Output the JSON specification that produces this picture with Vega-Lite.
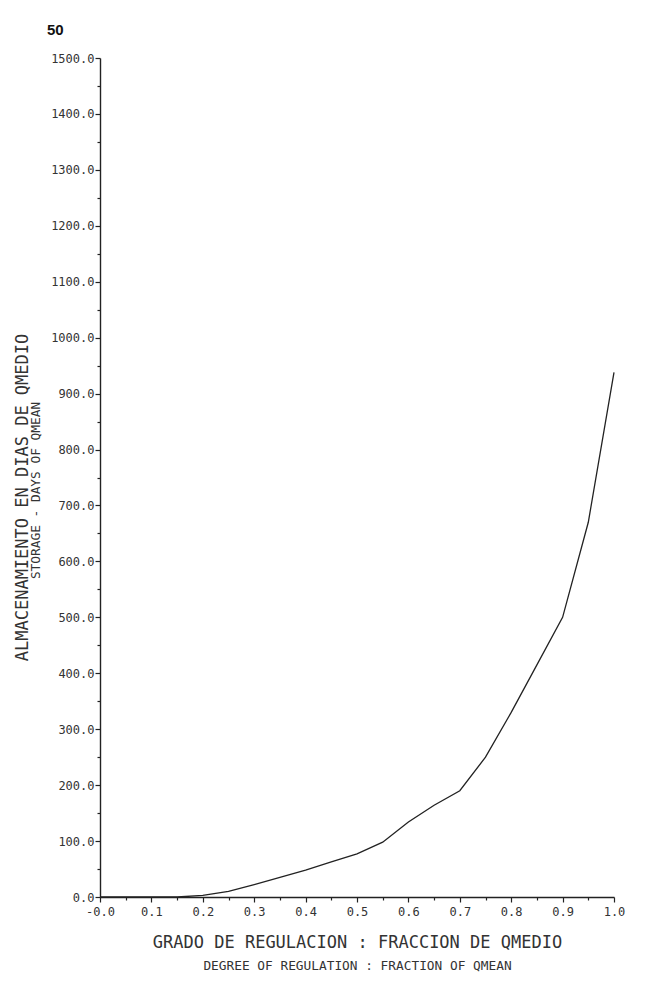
{
  "$schema": "https://vega.github.io/schema/vega-lite/v6.json",
  "autosize": "none",
  "width": 514,
  "height": 839,
  "padding": {"left": 100, "top": 58, "right": 33, "bottom": 85},
  "background": "white",
  "title": {"text": "50", "anchor": "start", "frame": "group", "dx": -53, "offset": 14, "font": "Liberation Sans", "fontSize": 15, "fontWeight": "bold", "color": "#111"},
  "config": {
    "view": {"stroke": null},
    "axis": {
      "grid": false,
      "domainColor": "#222",
      "domainWidth": 1.4,
      "tickColor": "#222",
      "tickWidth": 1.2,
      "labelFont": "DejaVu Sans Mono",
      "labelFontSize": 12,
      "labelColor": "#333",
      "labelOverlap": false,
      "labelFlush": false,
      "titleFont": "DejaVu Sans Mono",
      "titleFontWeight": "normal",
      "titleColor": "#333"
    }
  },
  "data": {
    "values": [
      {"fraccion": 0.0, "dias": 0},
      {"fraccion": 0.05, "dias": 0},
      {"fraccion": 0.1, "dias": 0},
      {"fraccion": 0.15, "dias": 0},
      {"fraccion": 0.2, "dias": 3},
      {"fraccion": 0.25, "dias": 10},
      {"fraccion": 0.3, "dias": 22},
      {"fraccion": 0.35, "dias": 35},
      {"fraccion": 0.4, "dias": 48},
      {"fraccion": 0.45, "dias": 63},
      {"fraccion": 0.5, "dias": 77},
      {"fraccion": 0.55, "dias": 98},
      {"fraccion": 0.6, "dias": 134},
      {"fraccion": 0.65, "dias": 164},
      {"fraccion": 0.7, "dias": 190},
      {"fraccion": 0.75, "dias": 250},
      {"fraccion": 0.8, "dias": 330},
      {"fraccion": 0.85, "dias": 415},
      {"fraccion": 0.9, "dias": 500},
      {"fraccion": 0.95, "dias": 670},
      {"fraccion": 1.0, "dias": 938}
    ]
  },
  "layer": [
    {
      "mark": {"type": "line", "color": "#222", "strokeWidth": 1.3},
      "encoding": {
        "x": {
          "field": "fraccion", "type": "quantitative",
          "scale": {"domain": [0, 1], "nice": false, "zero": false},
          "axis": {
            "orient": "bottom",
            "values": [0, 0.05, 0.1, 0.15, 0.2, 0.25, 0.3, 0.35, 0.4, 0.45, 0.5, 0.55, 0.6, 0.65, 0.7, 0.75, 0.8, 0.85, 0.9, 0.95, 1.0],
            "labelExpr": "abs(datum.value) < 0.001 ? '-0.0' : (round(datum.value * 100) % 10 == 0 ? format(datum.value, '.1f') : '')",
            "tickSize": {"condition": {"test": "round(datum.value * 100) % 10 == 0", "value": 5}, "value": 3},
            "labelPadding": 4,
            "title": "GRADO DE REGULACION : FRACCION DE QMEDIO",
            "titleFontSize": 17,
            "titlePadding": 17
          }
        },
        "y": {
          "field": "dias", "type": "quantitative",
          "scale": {"domain": [0, 1500], "nice": false},
          "axis": {
            "orient": "left",
            "values": [0, 50, 100, 150, 200, 250, 300, 350, 400, 450, 500, 550, 600, 650, 700, 750, 800, 850, 900, 950, 1000, 1050, 1100, 1150, 1200, 1250, 1300, 1350, 1400, 1450, 1500],
            "labelExpr": "datum.value % 100 == 0 ? format(datum.value, '.1f') : ''",
            "tickSize": {"condition": {"test": "datum.value % 100 == 0", "value": 5}, "value": 3},
            "labelPadding": 1,
            "title": "STORAGE - DAYS OF QMEAN",
            "titleFontSize": 12.8,
            "titlePadding": 8,
            "titleY": 432
          }
        }
      }
    },
    {
      "mark": {"type": "line", "opacity": 0},
      "encoding": {
        "x": {
          "field": "fraccion", "type": "quantitative",
          "axis": {
            "orient": "bottom",
            "offset": 60,
            "domain": false, "ticks": false, "labels": false,
            "title": "DEGREE OF REGULATION : FRACTION OF QMEAN",
            "titleFontSize": 12.8,
            "titlePadding": 2
          }
        },
        "y": {
          "field": "dias", "type": "quantitative",
          "axis": {
            "orient": "left",
            "offset": 67,
            "domain": false, "ticks": false, "labels": false,
            "title": "ALMACENAMIENTO EN DIAS DE QMEDIO",
            "titleFontSize": 17,
            "titlePadding": 2,
            "titleY": 439
          }
        }
      }
    }
  ],
  "resolve": {"axis": {"x": "independent", "y": "independent"}}
}
